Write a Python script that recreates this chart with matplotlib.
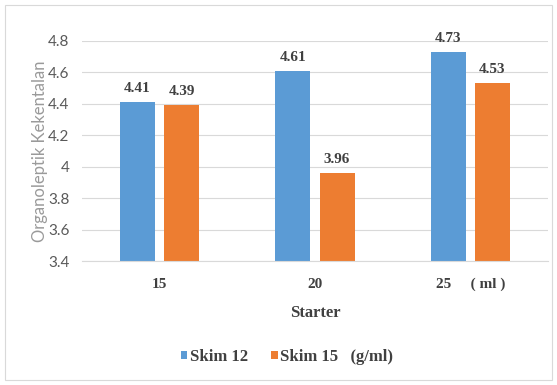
import matplotlib
matplotlib.use("Agg")
import matplotlib.pyplot as plt
import numpy as np
from matplotlib.patches import Rectangle

starter = ["15", "20", "25     ( ml )"]
skim12 = [4.41, 4.61, 4.73]
skim15 = [4.39, 3.96, 4.53]
yticks = [3.4, 3.6, 3.8, 4.0, 4.2, 4.4, 4.6, 4.8]
ytick_labels = ["3.4", "3.6", "3.8", "4", "4.2", "4.4", "4.6", "4.8"]

BLUE = "#5B9BD5"
ORANGE = "#ED7D31"
TXT = "#404040"
SERIF = ["Liberation Serif", "DejaVu Serif"]
SANS = ["Lato", "DejaVu Sans"]

plt.rcParams["font.family"] = SERIF

fig = plt.figure(figsize=(5.57, 3.85), dpi=100)
ax = fig.add_axes([0.147, 0.322, 0.837, 0.572])

x = np.arange(len(starter))
w = 0.225
off = 0.142
b1 = ax.bar(x - off, skim12, w, color=BLUE, label="Skim 12")
b2 = ax.bar(x + off, skim15, w, color=ORANGE, label="Skim 15   (g/ml)")

for bars, vals in ((b1, skim12), (b2, skim15)):
    for r, v in zip(bars, vals):
        ax.annotate(f"{v:.2f}", (r.get_x() + r.get_width() / 2, v),
                    xytext=(0, 5), textcoords="offset points",
                    ha="center", va="bottom", fontsize=11, color=TXT,
                    fontweight="bold", annotation_clip=False)

ax.set_ylim(3.4, 4.8)
ax.set_xlim(-0.5, 2.5)
ax.set_yticks(yticks)
ax.set_yticklabels(ytick_labels, family=SANS, fontsize=11, color="#595959")
ax.set_xticks(x)
ax.set_xticklabels(starter, fontsize=11, fontweight="bold", color=TXT)
ax.tick_params(axis="both", length=0)
ax.tick_params(axis="x", pad=12)
ax.tick_params(axis="y", pad=9)
ax.grid(axis="y", color="#d9d9d9", linewidth=0.8)
ax.set_axisbelow(True)
for s in ("top", "right", "left"):
    ax.spines[s].set_visible(False)
ax.spines["bottom"].set_color("#d9d9d9")

ax.set_xlabel("Starter", fontsize=12, fontweight="bold", color=TXT, labelpad=10)
ax.set_ylabel("Organoleptik Kekentalan", family=SANS, fontsize=12,
              color="#9a9a9a", labelpad=0)

ax.legend(loc="upper center", bbox_to_anchor=(0.44, -0.33), ncol=2,
          frameon=False, prop={"family": SERIF, "weight": "bold", "size": 12},
          handlelength=0.4, handleheight=0.4, columnspacing=1.4,
          handletextpad=0.15, labelcolor=TXT)

fig.patches.append(Rectangle((0.009, 0.013), 0.982, 0.974, transform=fig.transFigure,
                             fill=False, edgecolor="#d9d9d9", linewidth=0.8))

fig.savefig("out.png", dpi=100)
